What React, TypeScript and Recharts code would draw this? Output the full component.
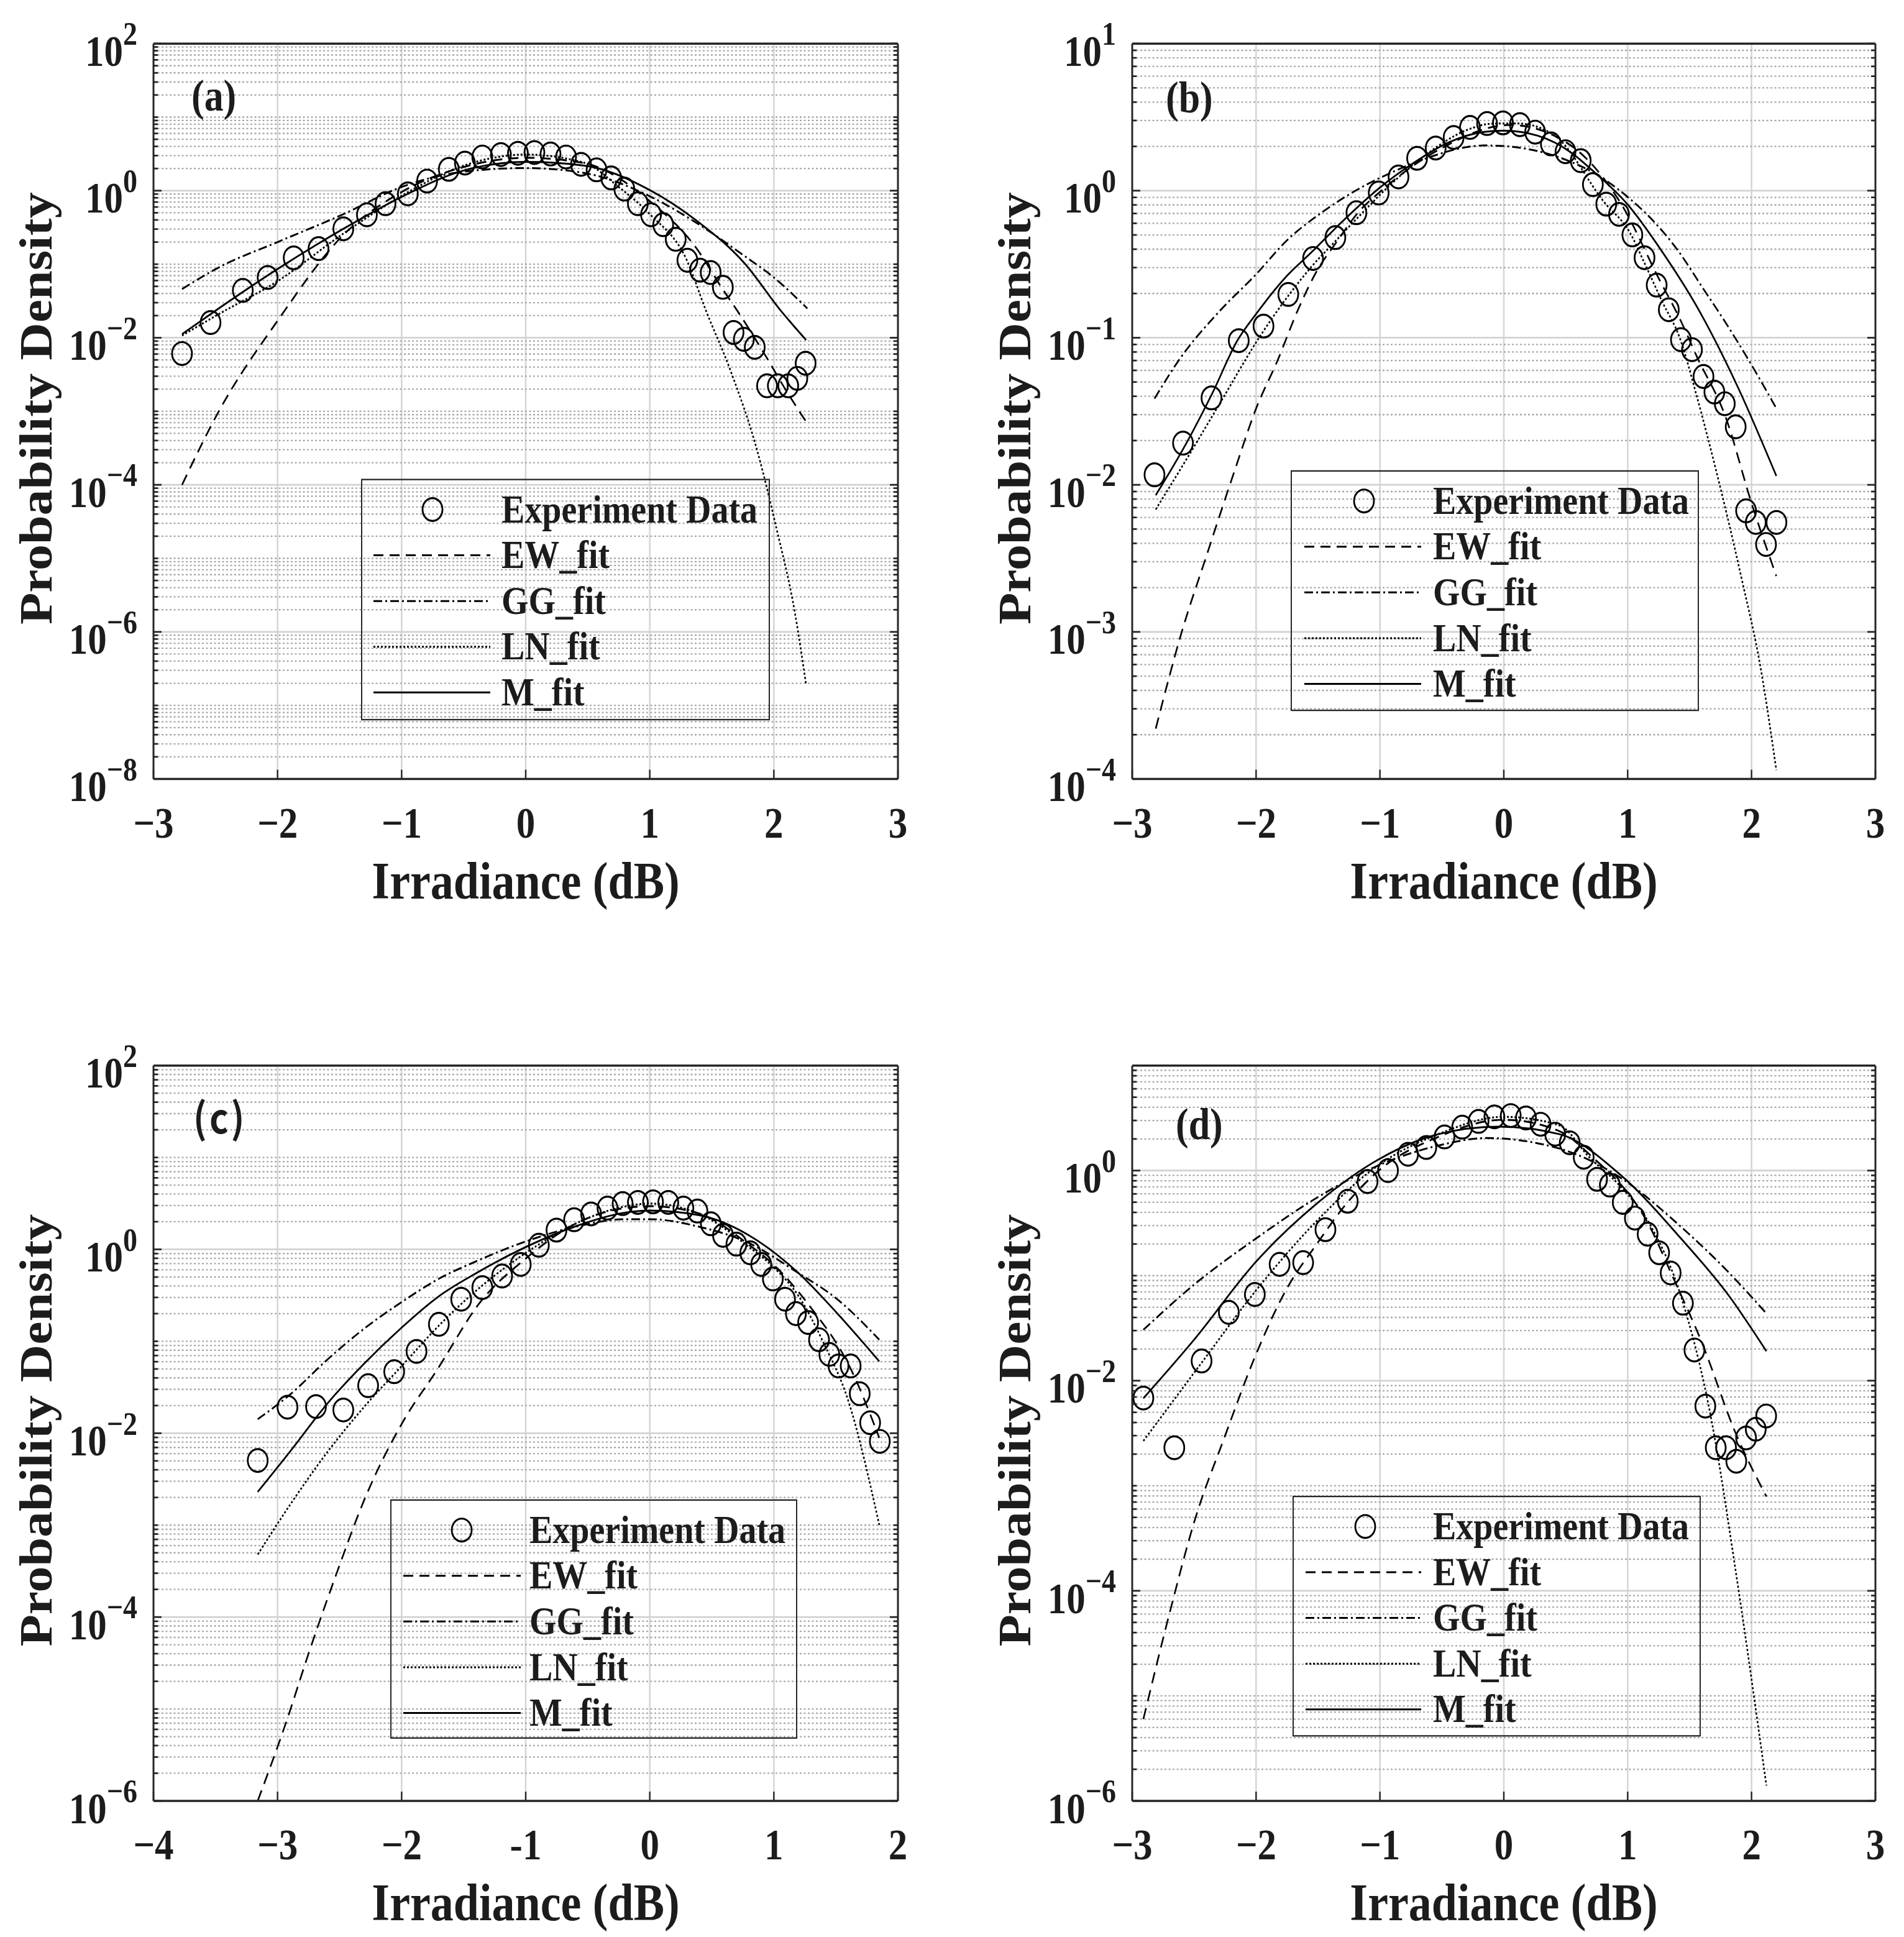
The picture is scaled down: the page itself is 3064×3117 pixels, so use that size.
import React from 'react';
import { ComposedChart, Line, Scatter, XAxis, YAxis, Legend, ReferenceLine } from 'recharts';

type Pt = [number, number];

// the source figure is stretched vertically, so the whole page is drawn flat and scaled in y
const S = 1.15;
const FONT = '"Times New Roman", "Liberation Serif", serif';
const INK = '#262626';
const TXT = '#1c1c1c';

// ---------- (a) ----------
const A_EXP: Pt[] = [
  [-2.77, 0.0061], [-2.54, 0.0161], [-2.28, 0.044], [-2.08, 0.066], [-1.87, 0.122], [-1.67, 0.163],
  [-1.47, 0.303], [-1.28, 0.47], [-1.13, 0.665], [-0.95, 0.905], [-0.795, 1.35], [-0.62, 1.95],
  [-0.49, 2.37], [-0.35, 2.87], [-0.2, 3.1], [-0.063, 3.22], [0.07, 3.3], [0.2, 3.15], [0.325, 2.87],
  [0.446, 2.28], [0.571, 1.92], [0.689, 1.49], [0.795, 1.05], [0.904, 0.665], [1.01, 0.47],
  [1.108, 0.345], [1.209, 0.218], [1.303, 0.113], [1.405, 0.083], [1.491, 0.077], [1.589, 0.0485],
  [1.675, 0.0118], [1.758, 0.0095], [1.846, 0.0074], [1.945, 0.00222], [2.032, 0.00222],
  [2.116, 0.00222], [2.189, 0.0028], [2.256, 0.0045],
];
const A_EW: Pt[] = [
  [-2.77, 1.0e-4], [-2.46, 1.1e-3], [-2.0, 0.017], [-1.48, 0.24], [-0.99, 0.98], [-0.5, 2.1], [0, 2.8],
  [0.47, 2.37], [1.0, 0.72], [1.37, 0.17], [1.59, 0.045], [1.7, 0.024], [1.93, 0.0058], [2.1, 0.0019],
  [2.26, 7.2e-4],
];
const A_GG: Pt[] = [
  [-2.77, 0.046], [-2.46, 0.093], [-2.0, 0.2], [-1.48, 0.47], [-0.99, 1.14], [-0.5, 1.81], [0, 2.03],
  [0.47, 1.74], [1.0, 0.84], [1.37, 0.37], [1.77, 0.127], [2.0, 0.066], [2.27, 0.025],
];
const A_LN: Pt[] = [
  [-2.77, 0.0107], [-2.46, 0.0216], [-2.0, 0.0587], [-1.48, 0.254], [-0.99, 0.871], [-0.5, 2.19],
  [0, 3.1], [0.47, 2.4], [0.75, 1.12], [1.0, 0.48], [1.3, 0.112], [1.45, 0.024], [1.65, 3.6e-3],
  [1.87, 2.75e-4], [2.02, 2.6e-5], [2.17, 1.8e-6], [2.26, 1.9e-7],
];
const A_M: Pt[] = [
  [-2.77, 0.0112], [-2.46, 0.026], [-2.0, 0.086], [-1.48, 0.296], [-0.99, 0.84], [-0.5, 1.88],
  [0, 2.46], [0.47, 2.19], [1.0, 1.02], [1.37, 0.4], [1.77, 0.1], [2.05, 0.024], [2.26, 0.0093],
];

// ---------- (b) ----------
const B_EXP: Pt[] = [
  [-2.82, 0.0117], [-2.59, 0.0192], [-2.36, 0.039], [-2.14, 0.0955], [-1.94, 0.12], [-1.74, 0.197],
  [-1.54, 0.346], [-1.36, 0.48], [-1.19, 0.708], [-1.01, 0.964], [-0.85, 1.24], [-0.7, 1.66],
  [-0.55, 1.95], [-0.405, 2.3], [-0.273, 2.69], [-0.135, 2.86], [-0.007, 2.89], [0.13, 2.81],
  [0.253, 2.5], [0.38, 2.08], [0.498, 1.84], [0.621, 1.6], [0.719, 1.1], [0.827, 0.81], [0.93, 0.69],
  [1.038, 0.5], [1.136, 0.35], [1.234, 0.228], [1.332, 0.155], [1.43, 0.097], [1.519, 0.083],
  [1.612, 0.0545], [1.7, 0.0427], [1.784, 0.0356], [1.872, 0.0248], [1.956, 0.00665],
  [2.034, 0.00555], [2.117, 0.00393], [2.201, 0.00555],
];
const B_EW: Pt[] = [
  [-2.81, 2.2e-4], [-2.6, 1.0e-3], [-2.4, 3.3e-3], [-2.18, 0.012], [-2.0, 0.033], [-1.83, 0.069],
  [-1.66, 0.156], [-1.52, 0.274], [-1.34, 0.46], [-1.17, 0.72], [-1.0, 0.98], [-0.5, 1.95],
  [0.05, 2.8], [0.5, 2.14], [0.96, 0.78], [1.25, 0.254], [1.42, 0.135], [1.56, 0.074], [1.79, 0.029],
  [2.0, 0.0075], [2.2, 0.0024],
];
const B_GG: Pt[] = [
  [-2.82, 0.0386], [-2.61, 0.073], [-2.3, 0.15], [-2.0, 0.27], [-1.75, 0.46], [-1.46, 0.72],
  [-1.17, 1.03], [-0.88, 1.36], [-0.59, 1.7], [-0.31, 1.97], [-0.16, 2.03], [0, 2.01], [0.27, 1.86],
  [0.55, 1.56], [0.7, 1.36], [1.0, 0.906], [1.2, 0.631], [1.4, 0.398], [1.6, 0.222], [1.8, 0.123],
  [2.0, 0.0653], [2.2, 0.0331],
];
const B_LN: Pt[] = [
  [-2.81, 0.0068], [-2.55, 0.0155], [-2.32, 0.0327], [-1.95, 0.108], [-1.75, 0.188], [-1.55, 0.306],
  [-1.37, 0.444], [-1.17, 0.668], [-0.88, 1.17], [-0.6, 1.83], [-0.31, 2.56], [-0.08, 2.86],
  [0.12, 2.86], [0.41, 2.37], [0.81, 0.836], [1.02, 0.515], [1.13, 0.33], [1.28, 0.175], [1.42, 0.1],
  [1.56, 0.0394], [1.71, 0.0129], [1.92, 0.0023], [2.07, 5.9e-4], [2.2, 1.15e-4],
];
const B_M: Pt[] = [
  [-2.81, 0.0085], [-2.57, 0.0187], [-2.35, 0.0425], [-2.15, 0.096], [-2.0, 0.145], [-1.75, 0.264],
  [-1.55, 0.383], [-1.32, 0.598], [-1.0, 1.05], [-0.74, 1.52], [-0.45, 2.12], [-0.16, 2.51], [0, 2.56],
  [0.27, 2.37], [0.55, 1.8], [0.7, 1.41], [1.0, 0.805], [1.28, 0.383], [1.56, 0.162], [1.88, 0.048],
  [2.2, 0.0115],
];

// ---------- (c) ----------
const C_EXP: Pt[] = [
  [-3.16, 0.00505], [-2.92, 0.0192], [-2.69, 0.0195], [-2.47, 0.0179], [-2.27, 0.0329], [-2.06, 0.0467],
  [-1.88, 0.0776], [-1.7, 0.153], [-1.52, 0.287], [-1.35, 0.384], [-1.19, 0.513], [-1.04, 0.686],
  [-0.894, 1.11], [-0.752, 1.62], [-0.61, 2.1], [-0.473, 2.43], [-0.341, 2.81], [-0.219, 3.15],
  [-0.096, 3.24], [0.026, 3.29], [0.149, 3.24], [0.271, 2.81], [0.384, 2.61], [0.492, 1.9],
  [0.59, 1.42], [0.698, 1.14], [0.81, 0.917], [0.898, 0.686], [0.992, 0.477], [1.09, 0.287],
  [1.178, 0.2], [1.276, 0.16], [1.364, 0.104], [1.447, 0.0721], [1.521, 0.0539], [1.619, 0.0539],
  [1.692, 0.0269], [1.776, 0.013], [1.854, 0.00816],
];
const C_EW: Pt[] = [
  [-3.16, 1.0e-6], [-2.94, 6.6e-6], [-2.74, 4.4e-5], [-2.52, 3.1e-4], [-2.3, 1.9e-3], [-2.0, 0.0126],
  [-1.71, 0.05], [-1.37, 0.263], [-1.0, 0.794], [-0.6, 1.9], [-0.2, 2.82], [0, 2.95], [0.4, 2.45],
  [0.8, 1.12], [1.0, 0.676], [1.28, 0.25], [1.62, 0.05], [1.85, 0.0089],
];
const C_GG: Pt[] = [
  [-3.16, 0.0142], [-2.9, 0.0263], [-2.6, 0.063], [-2.3, 0.138], [-2.0, 0.267], [-1.7, 0.479],
  [-1.4, 0.741], [-1.0, 1.22], [-0.6, 1.76], [-0.2, 2.13], [0, 2.13], [0.4, 1.76], [0.8, 1.17],
  [1.2, 0.55], [1.5, 0.295], [1.85, 0.104],
];
const C_LN: Pt[] = [
  [-3.16, 4.8e-4], [-2.9, 1.66e-3], [-2.6, 6.2e-3], [-2.3, 0.0195], [-2.0, 0.0537], [-1.7, 0.148],
  [-1.4, 0.355], [-1.0, 0.912], [-0.6, 1.9], [-0.2, 2.93], [0, 3.15], [0.4, 2.43], [0.8, 1.06],
  [1.0, 0.637], [1.2, 0.309], [1.4, 0.0964], [1.6, 0.0225], [1.85, 0.001],
];
const C_M: Pt[] = [
  [-3.16, 0.0023], [-2.9, 0.0063], [-2.6, 0.0209], [-2.3, 0.0575], [-2.0, 0.141], [-1.7, 0.309],
  [-1.4, 0.55], [-1.0, 1.06], [-0.6, 1.78], [-0.2, 2.51], [0, 2.65], [0.4, 2.35], [0.8, 1.42],
  [1.2, 0.55], [1.5, 0.209], [1.85, 0.0605],
];

// ---------- (d) ----------
const D_EXP: Pt[] = [
  [-2.91, 0.00684], [-2.66, 0.0023], [-2.44, 0.0154], [-2.22, 0.0447], [-2.01, 0.0662], [-1.81, 0.128],
  [-1.62, 0.133], [-1.44, 0.274], [-1.26, 0.511], [-1.1, 0.786], [-0.935, 1.0], [-0.773, 1.43],
  [-0.626, 1.66], [-0.479, 2.09], [-0.336, 2.59], [-0.204, 2.94], [-0.076, 3.25], [0.056, 3.34],
  [0.179, 3.17], [0.297, 2.76], [0.415, 2.22], [0.532, 1.84], [0.645, 1.34], [0.753, 0.826],
  [0.856, 0.728], [0.96, 0.498], [1.058, 0.353], [1.161, 0.248], [1.254, 0.165], [1.347, 0.106],
  [1.446, 0.0547], [1.539, 0.0196], [1.627, 0.00573], [1.711, 0.0023], [1.794, 0.0023],
  [1.877, 0.00171], [1.956, 0.00285], [2.034, 0.00345], [2.118, 0.00461],
];
const D_EW: Pt[] = [
  [-2.91, 6.0e-6], [-2.69, 6.7e-5], [-2.5, 4.5e-4], [-2.25, 3.0e-3], [-2.0, 0.0179], [-1.76, 0.0724],
  [-1.51, 0.2], [-1.27, 0.485], [-1.02, 0.975], [-0.53, 2.09], [0, 3.05], [0.45, 2.37], [0.69, 1.43],
  [1.19, 0.275], [1.35, 0.106], [1.6, 0.0229], [1.87, 0.0032], [2.12, 7.9e-4],
];
const D_GG: Pt[] = [
  [-2.91, 0.0305], [-2.5, 0.0822], [-2.0, 0.226], [-1.51, 0.551], [-1.02, 1.11], [-0.53, 1.73],
  [-0.14, 2.04], [0.45, 1.62], [0.94, 0.859], [1.43, 0.292], [1.82, 0.106], [2.12, 0.0436],
];
const D_LN: Pt[] = [
  [-2.91, 0.00267], [-2.44, 0.0148], [-2.0, 0.0724], [-1.51, 0.332], [-1.02, 1.11], [-0.53, 2.22],
  [0, 3.25], [0.45, 2.69], [0.69, 1.34], [0.94, 0.71], [1.19, 0.292], [1.43, 0.0637], [1.68, 4.0e-3],
  [1.87, 1.6e-4], [2.12, 1.4e-6],
];
const D_M: Pt[] = [
  [-2.91, 0.0068], [-2.5, 0.0246], [-2.0, 0.136], [-1.51, 0.485], [-1.02, 1.26], [-0.53, 2.22],
  [-0.04, 2.62], [0.45, 2.22], [0.94, 0.914], [1.43, 0.226], [1.82, 0.0637], [2.12, 0.0191],
];

// axes
const X_TICKS_3 = [-3, -2, -1, 0, 1, 2, 3];
const X_LABELS_3 = ['\u22123', '\u22122', '\u22121', '0', '1', '2', '3'];
const X_TICKS_C = [-4, -3, -2, -1, 0, 1, 2];
const X_LABELS_C = ['\u22124', '\u22123', '\u22122', '-1', '0', '1', '2'];
const A_DECADES = [-8, -6, -4, -2, 0, 2];
const B_DECADES = [-4, -3, -2, -1, 0, 1];
const C_DECADES = [-6, -4, -2, 0, 2];
const D_DECADES = [-6, -4, -2, 0];

const SERIES = [
  { key: 'exp', name: 'Experiment Data' },
  { key: 'ew', name: 'EW_fit', dash: '16 10' },
  { key: 'gg', name: 'GG_fit', dash: '14 5 3 5' },
  { key: 'ln', name: 'LN_fit', dash: '3 3' },
  { key: 'm', name: 'M_fit', dash: undefined },
];

const logTicks = (lo: number, hi: number) => {
  const out: number[] = [];
  for (let e = lo; e < hi; e++) for (let k = 1; k < 10; k++) out.push(k * 10 ** e);
  out.push(10 ** hi);
  return out;
};
const decadeOf = (v: number) => {
  const e = Math.round(Math.log10(v));
  return Math.abs(v / 10 ** e - 1) < 1e-6 ? e : null;
};
const sup = (e: number) => (e < 0 ? '\u2212' + -e : String(e));
const toXY = (pts: Pt[]) => pts.map(([x, y]) => ({ x, y }));

const PANELS = [
  {
    id: 'a', left: 0, top: 0, margin: { top: 60, right: 86, bottom: 10, left: 47 },
    xTicks: X_TICKS_3, xLabels: X_LABELS_3, yLo: -8, yHi: 2, decades: A_DECADES,
    exp: A_EXP, ew: A_EW, gg: A_GG, ln: A_LN, m: A_M,
    letter: { text: '(a)', dx: 61, dy: 94, font: FONT, size: 62, spacing: 0 },
    legend: { left: 581, top: 670, width: 658, height: 338, line: [18, 206], mark: 113, text: 224 },
  },
  {
    id: 'b', left: 1532, top: 0, margin: { top: 60, right: 45, bottom: 10, left: 90 },
    xTicks: X_TICKS_3, xLabels: X_LABELS_3, yLo: -4, yHi: 1, decades: B_DECADES,
    exp: B_EXP, ew: B_EW, gg: B_GG, ln: B_LN, m: B_M,
    letter: { text: '(b)', dx: 54, dy: 96, font: FONT, size: 62, spacing: 0 },
    legend: { left: 545, top: 658, width: 657, height: 337, line: [20, 208], mark: 116, text: 227 },
  },
  {
    id: 'c', left: 0, top: 1430, margin: { top: 60, right: 86, bottom: 10, left: 47 },
    xTicks: X_TICKS_C, xLabels: X_LABELS_C, yLo: -6, yHi: 2, decades: C_DECADES,
    exp: C_EXP, ew: C_EW, gg: C_GG, ln: C_LN, m: C_M,
    letter: { text: '(c)', dx: 64, dy: 95, font: '"Noto Sans CJK SC", "Noto Sans", sans-serif', size: 58, spacing: 4 },
    legend: { left: 628, top: 668, width: 655, height: 335, line: [19, 208], mark: 113, text: 222 },
  },
  {
    id: 'd', left: 1532, top: 1430, margin: { top: 60, right: 45, bottom: 10, left: 90 },
    xTicks: X_TICKS_3, xLabels: X_LABELS_3, yLo: -6, yHi: 1, decades: D_DECADES,
    exp: D_EXP, ew: D_EW, gg: D_GG, ln: D_LN, m: D_M,
    letter: { text: '(d)', dx: 70, dy: 103, font: FONT, size: 62, spacing: 0 },
    legend: { left: 548, top: 663, width: 657, height: 337, line: [19, 205], mark: 115, text: 224 },
  },
];

type PanelCfg = (typeof PANELS)[number];

const Ring = (p: any) => (
  <circle cx={p.cx} cy={p.cy} r={16} fill="none" stroke="#000" strokeWidth={2.8} />
);

const LegendBox = ({ cfg }: { cfg: PanelCfg['legend'] }) => (
  <div style={{ width: cfg.width, height: cfg.height, border: `2.5px solid ${INK}`, boxSizing: 'border-box' }}>
    <svg width={cfg.width - 5} height={cfg.height - 5} style={{ display: 'block', overflow: 'visible' }}>
      {SERIES.map((s, i) => {
        const cy = 41 + 64 * i;
        return (
          <g key={s.key}>
            {s.key === 'exp' ? (
              <circle cx={cfg.mark} cy={cy} r={16} fill="none" stroke="#000" strokeWidth={2.8} />
            ) : (
              <line x1={cfg.line[0]} x2={cfg.line[1]} y1={cy} y2={cy} stroke="#000" strokeWidth={2.6} strokeDasharray={s.dash} />
            )}
            <text x={cfg.text} y={cy + 18} fontFamily={FONT} fontWeight="bold" fontSize={56} fill={TXT}>{s.name}</text>
          </g>
        );
      })}
    </svg>
  </div>
);

const PanelChart = ({ p }: { p: PanelCfg }) => {
  const yTicks = logTicks(p.yLo, p.yHi);
  const yDomain = [10 ** p.yLo, 10 ** p.yHi];
  const xDomain = [p.xTicks[0], p.xTicks[p.xTicks.length - 1]];
  const isMajor = (v: number) => {
    const e = decadeOf(v);
    return e !== null && p.decades.includes(e);
  };
  const minorGrid = yTicks.slice(1, -1).filter(v => !isMajor(v));
  const majorGrid = yTicks.slice(1, -1).filter(isMajor);

  const leftTick = (t: any) => {
    const v = t.payload.value;
    const major = isMajor(v);
    const e = decadeOf(v);
    return (
      <g>
        <line x1={t.x} x2={t.x + (major ? 13 : 7)} y1={t.y} y2={t.y} stroke={INK} strokeWidth={2.4} />
        {major && e !== null && (
          <text x={t.x - 26} y={t.y + 31} textAnchor="end" fontFamily={FONT} fontWeight="bold" fontSize={61} fill={TXT}>
            <tspan>10</tspan>
            <tspan dy={-29} fontSize={46}>{sup(e)}</tspan>
          </text>
        )}
      </g>
    );
  };
  const rightTick = (t: any) => {
    const major = isMajor(t.payload.value);
    return <line x1={t.x} x2={t.x - (major ? 13 : 7)} y1={t.y} y2={t.y} stroke={INK} strokeWidth={2.4} />;
  };
  const bottomTick = (t: any) => {
    const i = p.xTicks.indexOf(t.payload.value);
    return (
      <g>
        <line x1={t.x} x2={t.x} y1={t.y} y2={t.y - 13} stroke={INK} strokeWidth={2.4} />
        <text x={t.x} y={t.y + 82} textAnchor="middle" fontFamily={FONT} fontWeight="bold" fontSize={61} fill={TXT}>
          {p.xLabels[i]}
        </text>
      </g>
    );
  };
  const topTick = (t: any) => <line x1={t.x} x2={t.x} y1={t.y} y2={t.y + 13} stroke={INK} strokeWidth={2.4} />;

  const xLabel = (l: any) => {
    const vb = l.viewBox;
    return (
      <text x={vb.x + vb.width / 2} y={vb.y + 167} textAnchor="middle" fontFamily={FONT} fontWeight="bold" fontSize={74} fill={TXT}>
        Irradiance (dB)
      </text>
    );
  };
  const yLabel = (l: any) => {
    const vb = l.viewBox;
    const px = vb.x + vb.width;
    const lx = px - 164;
    const ly = vb.y + vb.height / 2 - 4;
    return (
      <g>
        <text x={lx} y={ly} transform={`rotate(-90, ${lx}, ${ly})`} textAnchor="middle" fontFamily={FONT} fontWeight="bold" fontSize={73} fill={TXT}>
          Probability Density
        </text>
        <text
          x={px + p.letter.dx} y={vb.y + p.letter.dy} fontFamily={p.letter.font} fontWeight="bold"
          fontSize={p.letter.size} letterSpacing={p.letter.spacing} fill={TXT}
        >
          {p.letter.text}
        </text>
      </g>
    );
  };

  const axisLine = { stroke: INK, strokeWidth: 3 };

  return (
    <div style={{ position: 'absolute', left: p.left, top: p.top, width: 1532, height: 1280 }}>
      <ComposedChart width={1532} height={1280} margin={p.margin}>
        {p.xTicks.slice(1, -1).map(v => (
          <ReferenceLine key={'vx' + v} x={v} stroke="#d6d6d6" strokeWidth={2.6} />
        ))}
        {minorGrid.map(v => (
          <ReferenceLine key={'mn' + v} y={v} stroke="#a9a9a9" strokeWidth={2} strokeDasharray="3 3.5" />
        ))}
        {majorGrid.map(v => (
          <ReferenceLine key={'mj' + v} y={v} stroke="#d2d2d2" strokeWidth={2.4} />
        ))}

        <XAxis
          type="number" dataKey="x" domain={xDomain} ticks={p.xTicks} interval={0} allowDataOverflow
          height={180} tickSize={0} tickMargin={0} tickLine={false} axisLine={axisLine}
          tick={bottomTick} label={xLabel}
        />
        <XAxis
          xAxisId="top" orientation="top" type="number" domain={xDomain} ticks={p.xTicks} interval={0}
          allowDataOverflow height={1} tickSize={0} tickMargin={0} tickLine={false} axisLine={axisLine} tick={topTick}
        />
        <YAxis
          type="number" dataKey="y" scale="log" domain={yDomain} ticks={yTicks} interval={0} allowDataOverflow
          width={200} tickSize={0} tickMargin={0} tickLine={false} axisLine={axisLine} tick={leftTick} label={yLabel}
        />
        <YAxis
          yAxisId="right" orientation="right" type="number" scale="log" domain={yDomain} ticks={yTicks}
          interval={0} allowDataOverflow width={1} tickSize={0} tickMargin={0} tickLine={false}
          axisLine={axisLine} tick={rightTick}
        />

        {SERIES.slice(1).map(s => (
          <Line
            key={s.key} name={s.name} data={toXY((p as any)[s.key])} dataKey="y" type="monotone"
            stroke="#000" strokeWidth={2.6} strokeDasharray={s.dash} dot={false} activeDot={false}
            isAnimationActive={false}
          />
        ))}
        <Scatter name="Experiment Data" data={toXY(p.exp)} dataKey="y" shape={Ring} isAnimationActive={false} />

        <Legend
          layout="vertical" align="center" verticalAlign="middle"
          wrapperStyle={{ left: p.legend.left, top: p.legend.top, width: p.legend.width, height: p.legend.height }}
          content={() => <LegendBox cfg={p.legend} />}
        />
      </ComposedChart>
    </div>
  );
};

export default function App() {
  return (
    <div style={{ position: 'absolute', left: 0, top: 0, width: 3064, height: 3117, overflow: 'hidden', background: '#fff' }}>
      <div
        style={{
          position: 'absolute', left: 0, top: 0, width: 3064, height: 3117 / S,
          transform: `scaleY(${S})`, transformOrigin: '0 0',
        }}
      >
        {PANELS.map(p => (
          <PanelChart key={p.id} p={p} />
        ))}
      </div>
    </div>
  );
}
